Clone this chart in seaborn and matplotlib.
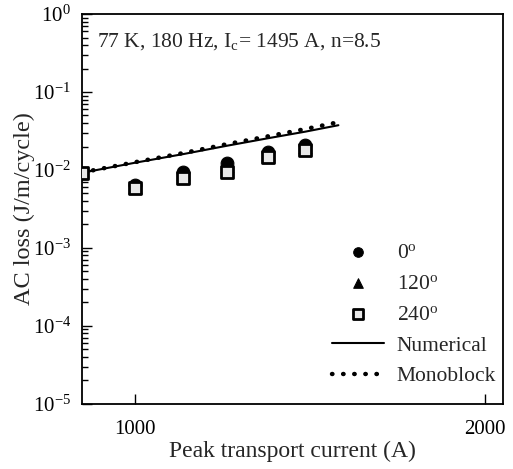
import matplotlib
matplotlib.use("Agg")
import matplotlib.pyplot as plt
import matplotlib.ticker as mticker
import pandas as pd
import seaborn as sns

# measured points (A, J/m/cycle)
current = [1000, 1100, 1200, 1300, 1400]
loss_0 = [0.0064, 0.0094, 0.0123, 0.0170, 0.0209]
loss_120 = [0.0061, 0.0088, 0.0113, 0.0160, 0.0198]
loss_240 = [0.0058, 0.0079, 0.0094, 0.0147, 0.0181]

# curves
curve_current = [900, 1000, 1100, 1200, 1300, 1400, 1495]
numerical = [0.0092, 0.0124, 0.0160, 0.0205, 0.0255, 0.0310, 0.0375]
monoblock = [0.0093, 0.0126, 0.0165, 0.0215, 0.0270, 0.0335, 0.0410]

sns.set_style("ticks")
plt.rcParams['font.family'] = ['Liberation Serif', 'DejaVu Serif']
plt.rcParams['mathtext.fontset'] = 'custom'
plt.rcParams['mathtext.rm'] = 'Liberation Serif'
plt.rcParams['mathtext.it'] = 'Liberation Serif:italic'
plt.rcParams['axes.unicode_minus'] = False
plt.rcParams.update({
    'xtick.direction': 'in', 'ytick.direction': 'in',
    'xtick.major.size': 7, 'ytick.major.size': 7,
    'xtick.minor.size': 4, 'ytick.minor.size': 4,
    'xtick.major.width': 1, 'ytick.major.width': 1,
    'xtick.minor.width': 1, 'ytick.minor.width': 1,
    'xtick.color': 'black', 'ytick.color': 'black',
    'axes.axisbelow': False,
})

pts = pd.DataFrame({"I": current, "l0": loss_0, "l120": loss_120, "l240": loss_240})
crv = pd.DataFrame({"I": curve_current, "num": numerical, "mono": monoblock})

fig = plt.figure(figsize=(5.13, 4.69), dpi=100)
ax = fig.add_axes([0.160, 0.139, 0.820, 0.831])

sns.lineplot(data=crv, x="I", y="num", ax=ax, color="black", lw=1.5, label="Numerical")
sns.lineplot(data=crv, x="I", y="mono", ax=ax, color="black", lw=3.2,
             linestyle=(0, (0.1, 2.4)), dash_capstyle="round", label="Monoblock")
sns.scatterplot(data=pts, x="I", y="l0", ax=ax, marker="o", s=85, color="black",
                edgecolor="black", label="0$^\\mathrm{o}$", zorder=3)
sns.scatterplot(data=pts, x="I", y="l120", ax=ax, marker="^", s=85, color="black",
                edgecolor="black", label="120$^\\mathrm{o}$", zorder=4)
sns.scatterplot(x=[900] + current, y=[0.0092] + loss_240, ax=ax, marker="s", s=75,
                color="#e8e8e8", edgecolor="black", linewidth=2, label="240$^\\mathrm{o}$", zorder=5)

ax.set_xscale("log")
ax.set_yscale("log")
ax.set_xlim(900, 2070)
ax.set_ylim(1e-5, 1)

ax.xaxis.set_major_locator(mticker.FixedLocator([1000, 2000]))
ax.xaxis.set_major_formatter(mticker.FixedFormatter(["1000", "2000"]))
ax.xaxis.set_minor_locator(mticker.NullLocator())
ax.yaxis.set_major_locator(mticker.LogLocator(base=10, numticks=10))
ax.yaxis.set_minor_locator(mticker.LogLocator(base=10, subs=[2, 3, 4, 5, 6, 7, 8, 9], numticks=10))
ax.yaxis.set_minor_formatter(mticker.NullFormatter())

ax.tick_params(which="both", direction="in", left=True, bottom=True, labelsize=15)
ax.tick_params(axis="x", pad=12)
ax.tick_params(axis="y", pad=8)
ax.set_axisbelow(False)
for s in ax.spines.values():
    s.set_linewidth(1.3)
    s.set_color("black")

ax.set_xlabel("Peak transport current (A)", fontsize=17, labelpad=1)
ax.set_ylabel("AC loss (J/m/cycle)", fontsize=17.5, labelpad=-2)

ax.text(0.035, 0.93, "77 K, 180 Hz, I$_\\mathrm{c}$= 1495 A, n=8.5", transform=ax.transAxes,
        fontsize=15.5, va="center", ha="left")

h, l = ax.get_legend_handles_labels()
order = [2, 3, 4, 0, 1]
ax.legend([h[i] for i in order], [l[i] for i in order], loc="lower right",
          bbox_to_anchor=(1.03, -0.005), frameon=False, fontsize=15.5,
          handlelength=2.4, handletextpad=0.6, labelspacing=0.5, markerscale=0.75)

fig.savefig("out.png", dpi=100)
